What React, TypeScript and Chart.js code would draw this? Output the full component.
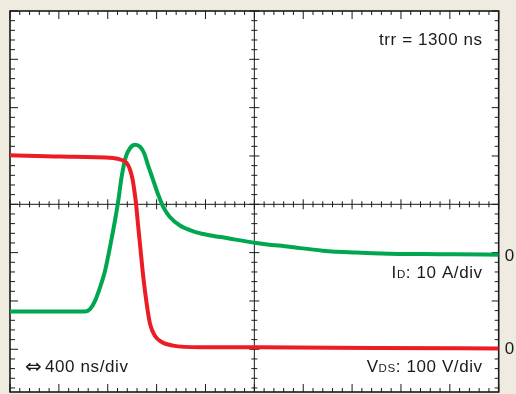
import { useEffect, useRef } from "react";
import { Chart, registerables } from "chart.js";

Chart.register(...registerables);

// Time base: 400 ns/div, 10 divisions
const timeMinNs = 0;
const timeMaxNs = 4000;

// VDS trace (red), volts vs ns
const vdsTimeNs = [0, 409, 843, 914, 955, 982, 1004, 1017, 1031, 1048, 1064, 1091, 1119, 1146, 1187, 1242, 1334, 1555, 2046, 3000, 4000];
const vdsVolts = [400, 397, 394, 390, 384, 370, 349, 328, 301, 256, 216, 148, 92, 51, 26, 13.5, 6, 2.5, 2.5, 1, 0];

// ID trace (green), amps vs ns
const idTimeNs = [0, 614, 655, 696, 737, 778, 818, 859, 886, 914, 949, 982, 1023, 1064, 1097, 1132, 1173, 1214, 1255, 1310, 1391, 1500, 1610, 1774, 2014, 2286, 2559, 2832, 3105, 3378, 3651, 4000];
const idAmps = [-11.7, -11.7, -11.2, -9.5, -6.7, -3.25, 1.6, 7.1, 11.2, 16.2, 20.4, 22.1, 22.8, 22.4, 21.1, 18.4, 15.4, 12.4, 9.9, 7.8, 6.1, 4.9, 4.2, 3.5, 2.5, 1.7, 0.9, 0.5, 0.27, 0.2, 0.15, 0.06];

// Vertical ranges (screen divisions relative to centre line, A and V scales)
const gridDivMin = -3.884;
const gridDivMax = 4;
const idMinA = -28.35;
const idMaxA = 50.49;
const vdsMinV = -90;
const vdsMaxV = 698.3;

const trrLabel = "trr = 1300 ns";
const arrowLabel = "\u21D4";
const timeLabel = "400 ns/div";
const idLabel: [string, boolean][] = [["I", false], ["D", true], [": 10 A/div", false]];
const vdsLabel: [string, boolean][] = [["V", false], ["DS", true], [": 100 V/div", false]];
const zeroLabel = "0";

const RED = "#ec1c24";
const GREEN = "#00a650";
const CREAM = "#efebe0";
const INK = "#1a1a1a";
const FONT = "'Liberation Sans', Arial, Helvetica, sans-serif";
const BIG = `17px ${FONT}`;
const SMALL = `11.5px ${FONT}`;
const SPACING = "0.6px";

function drawRich(ctx: CanvasRenderingContext2D, parts: [string, boolean][], xRight: number, baseline: number) {
  let total = 0;
  for (const [t, s] of parts) {
    ctx.font = s ? SMALL : BIG;
    total += ctx.measureText(t).width;
  }
  let x = xRight - total;
  ctx.textAlign = "left";
  ctx.textBaseline = "alphabetic";
  for (const [t, s] of parts) {
    ctx.font = s ? SMALL : BIG;
    ctx.fillText(t, x, baseline);
    x += ctx.measureText(t).width;
  }
}

const scopePlugin = {
  id: "scope",
  beforeDraw(chart: any) {
    const ctx: CanvasRenderingContext2D = chart.ctx;
    const { left, right, top, bottom } = chart.chartArea;
    ctx.save();
    ctx.fillStyle = CREAM;
    ctx.fillRect(0, 0, chart.width, chart.height);
    ctx.fillStyle = "#ffffff";
    ctx.fillRect(left, top, right - left, bottom - top);
    ctx.restore();
  },
  beforeDatasetsDraw(chart: any) {
    const ctx: CanvasRenderingContext2D = chart.ctx;
    const { left, right, top, bottom } = chart.chartArea;
    const g = chart.scales.g;
    const xDiv = (right - left) / 10;
    const cx = left + 5 * xDiv;
    const cy = g.getPixelForValue(0);
    const yDiv = g.getPixelForValue(0) - g.getPixelForValue(1);
    ctx.save();
    ctx.strokeStyle = INK;
    ctx.lineWidth = 1;
    ctx.beginPath();
    ctx.moveTo(left, cy);
    ctx.lineTo(right, cy);
    ctx.moveTo(cx, top);
    ctx.lineTo(cx, bottom);
    for (let i = 0; i <= 50; i++) {
      const x = left + (i * xDiv) / 5;
      const major = i % 5 === 0;
      ctx.moveTo(x, top);
      ctx.lineTo(x, top + (major ? 8 : 4));
      ctx.moveTo(x, bottom);
      ctx.lineTo(x, bottom - (major ? 8 : 4));
      ctx.moveTo(x, cy - (major ? 5 : 3));
      ctx.lineTo(x, cy + (major ? 5 : 3));
    }
    for (let k = -25; k <= 25; k++) {
      const y = cy - (k * yDiv) / 5;
      if (y < top - 0.5 || y > bottom + 0.5) continue;
      const major = k % 5 === 0;
      ctx.moveTo(left, y);
      ctx.lineTo(left + (major ? 8 : 5), y);
      ctx.moveTo(right, y);
      ctx.lineTo(right - (major ? 7 : 4), y);
      ctx.moveTo(cx - (major ? 5 : 3), y);
      ctx.lineTo(cx + (major ? 5 : 3), y);
    }
    ctx.stroke();
    ctx.lineWidth = 1.6;
    ctx.strokeRect(left, top, right - left, bottom - top);
    ctx.restore();
  },
  afterDatasetsDraw(chart: any) {
    const ctx: CanvasRenderingContext2D = chart.ctx;
    const { left, right, top } = chart.chartArea;
    const yI = chart.scales.yI;
    const yV = chart.scales.yV;
    ctx.save();
    (ctx as any).letterSpacing = SPACING;
    ctx.fillStyle = INK;
    ctx.font = BIG;
    ctx.textAlign = "right";
    ctx.textBaseline = "alphabetic";
    ctx.fillText(trrLabel, right - 16, top + 34);
    drawRich(ctx, idLabel, right - 16, 278);
    drawRich(ctx, vdsLabel, right - 16, 372);
    ctx.textAlign = "left";
    ctx.font = BIG;
    ctx.fillText(timeLabel, left + 35, 372);
    (ctx as any).letterSpacing = "0px";
    ctx.font = `20px 'DejaVu Sans', sans-serif`;
    ctx.fillText(arrowLabel, left + 15, 373);
    ctx.font = BIG;
    ctx.textBaseline = "middle";
    ctx.fillText(zeroLabel, right + 6, yI.getPixelForValue(0) + 1);
    ctx.fillText(zeroLabel, right + 6, yV.getPixelForValue(0) + 1);
    ctx.restore();
  },
};

export default function App() {
  const ref = useRef<HTMLCanvasElement | null>(null);
  useEffect(() => {
    if (!ref.current) return;
    const chart = new Chart(ref.current, {
      type: "line",
      data: {
        datasets: [
          {
            label: "VDS",
            data: vdsTimeNs.map((t, i) => ({ x: t, y: vdsVolts[i] })),
            borderColor: RED,
            borderWidth: 4,
            pointRadius: 0,
            cubicInterpolationMode: "monotone",
            yAxisID: "yV",
          },
          {
            label: "ID",
            data: idTimeNs.map((t, i) => ({ x: t, y: idAmps[i] })),
            borderColor: GREEN,
            borderWidth: 4,
            pointRadius: 0,
            cubicInterpolationMode: "monotone",
            yAxisID: "yI",
          },
        ],
      },
      options: {
        animation: false,
        responsive: false,
        layout: { padding: { left: 10, top: 11, right: 17.3, bottom: 2 } },
        plugins: { legend: { display: false }, tooltip: { enabled: false } },
        scales: {
          x: { type: "linear", min: timeMinNs, max: timeMaxNs, display: false },
          g: { type: "linear", axis: "y", min: gridDivMin, max: gridDivMax, display: false },
          yI: { type: "linear", axis: "y", min: idMinA, max: idMaxA, display: false },
          yV: { type: "linear", axis: "y", min: vdsMinV, max: vdsMaxV, display: false },
        },
      },
      plugins: [scopePlugin],
    } as any);
    return () => chart.destroy();
  }, []);
  return (
    <div style={{ position: "absolute", left: 0, top: 0, width: 516, height: 394 }}>
      <canvas ref={ref} width={516} height={394} />
    </div>
  );
}
